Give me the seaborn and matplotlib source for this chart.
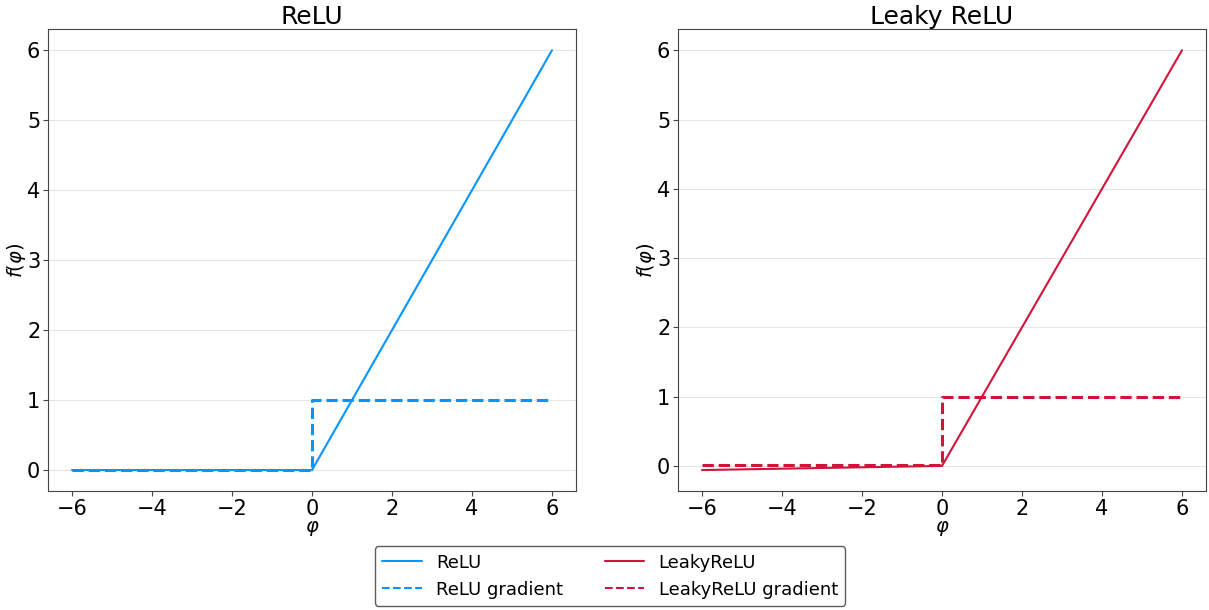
import matplotlib
matplotlib.use('Agg')
import matplotlib.pyplot as plt
import seaborn as sns
import pandas as pd

# activation curves, sampled at the kinks
phi = [-6, 0, 6]
relu = [0, 0, 6]
leaky_relu = [-0.06, 0, 6]

# gradients as step shapes
phi_grad = [-6, 0, 0, 6]
relu_grad = [0, 0, 1, 1]
leaky_grad = [0.01, 0.01, 1, 1]

blue = '#0096FF'
red = '#D2143A'

sns.set_style('white', rc={'text.color': 'black', 'axes.labelcolor': 'black',
                           'xtick.color': 'black', 'ytick.color': 'black'})
plt.rcParams['font.family'] = ['DejaVu Sans']
plt.rcParams['axes.edgecolor'] = '#444444'

fig = plt.figure(figsize=(12.09, 6.1), dpi=100)
ax1 = fig.add_axes([0.0397, 0.195, 0.4367, 0.757])
ax2 = fig.add_axes([0.5608, 0.195, 0.4367, 0.757])

panels = [
    (ax1, 'ReLU', relu, relu_grad, blue, 'ReLU'),
    (ax2, 'Leaky ReLU', leaky_relu, leaky_grad, red, 'LeakyReLU'),
]

for ax, title, f, g, col, name in panels:
    df = pd.DataFrame({'phi': phi, 'f': f})
    dg = pd.DataFrame({'phi': phi_grad, 'g': g})
    sns.lineplot(data=df, x='phi', y='f', ax=ax, color=col, lw=1.5,
                 estimator=None, sort=False, label=name)
    sns.lineplot(data=dg, x='phi', y='g', ax=ax, color=col, lw=2.2,
                 linestyle='--', estimator=None, sort=False,
                 label=f'{name} gradient')
    ax.set_title(title, fontsize=18, pad=4)
    ax.set_xlabel(r'$\varphi$', fontsize=14, labelpad=0)
    ax.set_ylabel(r'$f(\varphi)$', fontsize=14, labelpad=-1)
    ax.set_xticks([-6, -4, -2, 0, 2, 4, 6])
    ax.set_yticks([0, 1, 2, 3, 4, 5, 6])
    ax.tick_params(axis='both', labelsize=15, length=3.5, pad=2,
                   bottom=True, left=True)
    ax.tick_params(axis='both', color='#444444')
    ax.yaxis.grid(True, color='#e6e6e6', lw=0.8)
    ax.set_axisbelow(True)
    ax.get_legend().remove()

h1, l1 = ax1.get_legend_handles_labels()
h2, l2 = ax2.get_legend_handles_labels()
leg = fig.legend(h1 + h2, l1 + l2, loc='lower center', ncol=2,
                 bbox_to_anchor=(0.5045, 0.004), borderaxespad=0.1,
                 fontsize=13, frameon=True, columnspacing=2.3,
                 handlelength=2.2)
leg.get_frame().set_edgecolor('#333333')
for line in leg.get_lines():
    line.set_linewidth(1.5)

fig.savefig('out.png', dpi=100)
